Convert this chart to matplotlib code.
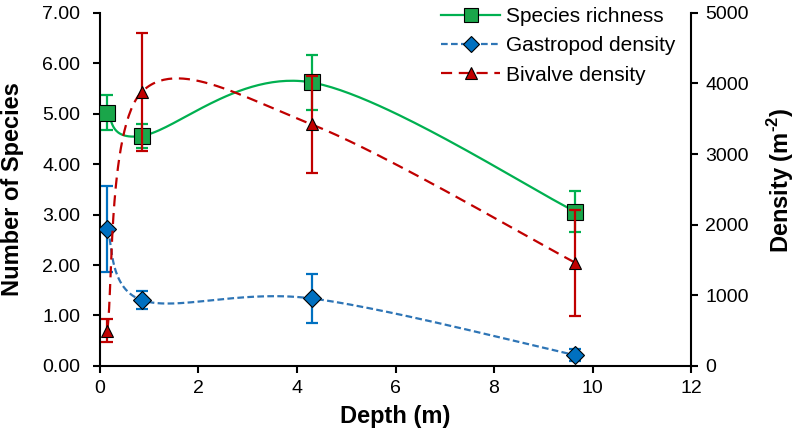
import numpy as np
import matplotlib
matplotlib.use("Agg")
from matplotlib import pyplot as plt
from matplotlib.lines import Line2D

plt.rcParams['font.family'] = ['Liberation Sans', 'DejaVu Sans']
plt.rcParams['mathtext.fontset'] = 'custom'
plt.rcParams['mathtext.rm'] = 'Liberation Sans:bold'
plt.rcParams['mathtext.bf'] = 'Liberation Sans:bold'

# data
depth = [0.15, 0.85, 4.3, 9.65]

richness = [5.02, 4.56, 5.62, 3.06]
richness_err = [0.35, 0.23, 0.55, 0.40]

gastropod = [1942, 931, 955, 152]
gastropod_err = [610, 130, 350, 90]

bivalve = [500, 3880, 3420, 1460]
bivalve_err = [160, 830, 690, 750]

GREEN = '#00b050'
GREEN_M = '#1aa64a'
BLUE = '#2e75b6'
BLUE_M = '#0070c0'
RED = '#c00000'


def smooth(x, y, n=60):
    """Excel style smoothed line: Catmull-Rom segments as cubic Bezier."""
    x = np.asarray(x, float)
    y = np.asarray(y, float)
    px = np.concatenate([[x[0]], x, [x[-1]]])
    py = np.concatenate([[y[0]], y, [y[-1]]])
    t = np.linspace(0, 1, n)
    xs, ys = [], []
    for i in range(1, len(x)):
        p0 = np.array([px[i], py[i]])
        p3 = np.array([px[i + 1], py[i + 1]])
        c1 = p0 + (np.array([px[i + 1], py[i + 1]]) - np.array([px[i - 1], py[i - 1]])) / 6
        c2 = p3 - (np.array([px[i + 2], py[i + 2]]) - np.array([px[i], py[i]])) / 6
        pts = (np.outer((1 - t) ** 3, p0) + np.outer(3 * (1 - t) ** 2 * t, c1)
               + np.outer(3 * (1 - t) * t ** 2, c2) + np.outer(t ** 3, p3))
        xs.append(pts[:, 0])
        ys.append(pts[:, 1])
    return np.concatenate(xs), np.concatenate(ys)


fig = plt.figure(figsize=(7.99, 4.44), dpi=100)
ax = fig.add_axes([0.125, 0.176, 0.74, 0.795])
ax2 = ax.twinx()

# species richness (left axis)
sx, sy = smooth(depth, richness)
ax.plot(sx, sy, color=GREEN, lw=1.6, zorder=2)
ax.errorbar(depth, richness, yerr=richness_err, fmt='none', ecolor=GREEN,
            elinewidth=1.6, capsize=4, capthick=1.6, zorder=3)
ax.plot(depth, richness, 's', ms=11, mfc=GREEN_M, mec='black', mew=0.8,
        ls='none', zorder=4)

# gastropod density (right axis)
gx, gy = smooth(depth, gastropod)
ax2.plot(gx, gy, color=BLUE, lw=1.6, dashes=(3, 1.5), zorder=2)
ax2.errorbar(depth, gastropod, yerr=gastropod_err, fmt='none', ecolor=BLUE_M,
             elinewidth=1.6, capsize=4, capthick=1.6, zorder=3)
ax2.plot(depth, gastropod, 'D', ms=9.5, mfc=BLUE_M, mec='black', mew=0.8,
         ls='none', zorder=4)

# bivalve density (right axis)
bx, by = smooth(depth, bivalve)
ax2.plot(bx, by, color=RED, lw=1.6, dashes=(5, 3), zorder=5)
ax2.errorbar(depth, bivalve, yerr=bivalve_err, fmt='none', ecolor=RED,
             elinewidth=1.6, capsize=4, capthick=1.6, zorder=6)
ax2.plot(depth, bivalve, '^', ms=8, mfc=RED, mec='black', mew=0.8,
         ls='none', zorder=7)

ax.set_xlim(0, 12)
ax.set_ylim(0, 7)
ax2.set_ylim(0, 5000)
ax.set_xticks(np.arange(0, 13, 2))
ax.set_yticks(np.arange(0, 8, 1))
ax.set_yticklabels(['%.2f' % v for v in range(8)])
ax2.set_yticks(np.arange(0, 5001, 1000))

for a in (ax, ax2):
    a.spines['top'].set_visible(False)
    for s in a.spines.values():
        s.set_linewidth(1.5)
    a.tick_params(direction='out', length=5, width=1.5, labelsize=14, pad=5)
ax.tick_params(axis='y', pad=9)
ax.spines['right'].set_visible(False)
ax2.spines['left'].set_visible(False)
ax2.spines['bottom'].set_visible(False)

ax.set_xlabel('Depth (m)', fontsize=17, fontweight='bold', labelpad=6)
ax.set_ylabel('Number of Species', fontsize=17, fontweight='bold', labelpad=13)
ax2.set_ylabel('Density (m$^{\\text{-2}}$)', fontsize=17, fontweight='bold')
ax2.yaxis.set_label_coords(1.125, 0.525)

handles = [
    Line2D([], [], color=GREEN, lw=1.6, marker='s', ms=10, mfc=GREEN_M, mec='black', mew=0.8),
    Line2D([], [], color=BLUE, lw=1.6, dashes=(3, 1.5), marker='D', ms=8, mfc=BLUE_M, mec='black', mew=0.8),
    Line2D([], [], color=RED, lw=1.6, dashes=(5, 3), marker='^', ms=8, mfc=RED, mec='black', mew=0.8),
]
ax2.legend(handles, ['Species richness', 'Gastropod density', 'Bivalve density'],
           loc='upper right', bbox_to_anchor=(1.005, 1.07), frameon=False,
           fontsize=15, handlelength=2.8, handletextpad=0.3, labelspacing=0.5)

fig.savefig('out.png', dpi=100)
